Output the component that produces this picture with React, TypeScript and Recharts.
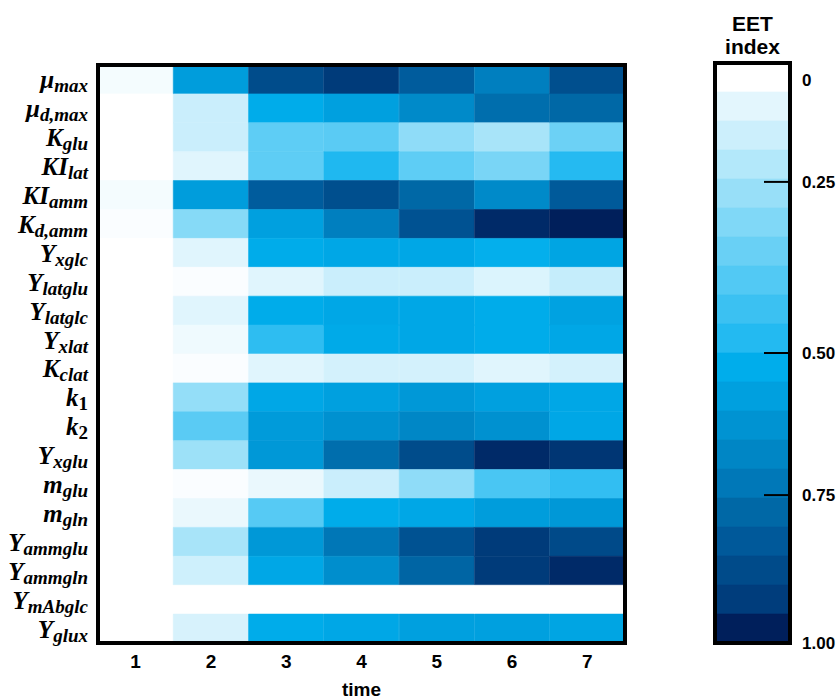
import { BarChart, Bar, Cell, XAxis, YAxis, ReferenceArea } from "recharts";

const times = ["1", "2", "3", "4", "5", "6", "7"];

const rowMain = ["μ", "μ", "K", "KI", "KI", "K", "Y", "Y", "Y", "Y", "K", "k", "k", "Y", "m", "m", "Y", "Y", "Y", "Y"];
const rowSub = ["max", "d,max", "glu", "lat", "amm", "d,amm", "xglc", "latglu", "latglc", "xlat", "clat", "1", "2", "xglu", "glu", "gln", "ammglu", "ammgln", "mAbglc", "glux"];

// EET index per parameter, one value per time point
const muMax = [0.02, 0.59, 0.89, 0.95, 0.83, 0.71, 0.88];
const muDMax = [0, 0.11, 0.53, 0.58, 0.67, 0.77, 0.79];
const kGlu = [0, 0.11, 0.34, 0.35, 0.23, 0.18, 0.31];
const kiLat = [0, 0.06, 0.34, 0.48, 0.34, 0.28, 0.47];
const kiAmm = [0.02, 0.59, 0.83, 0.88, 0.79, 0.67, 0.84];
const kDAmm = [0.01, 0.25, 0.58, 0.71, 0.87, 0.98, 1.0];
const yXglc = [0, 0.06, 0.53, 0.55, 0.55, 0.52, 0.56];
const yLatglu = [0, 0.01, 0.06, 0.11, 0.11, 0.07, 0.12];
const yLatglc = [0, 0.06, 0.53, 0.55, 0.55, 0.53, 0.57];
const yXlat = [0, 0.03, 0.45, 0.54, 0.55, 0.53, 0.55];
const kClat = [0, 0.01, 0.06, 0.09, 0.09, 0.06, 0.09];
const k1 = [0, 0.22, 0.55, 0.58, 0.61, 0.58, 0.55];
const k2 = [0, 0.35, 0.6, 0.64, 0.68, 0.64, 0.55];
const yXglu = [0, 0.2, 0.61, 0.77, 0.89, 0.98, 0.96];
const mGlu = [0, 0.01, 0.04, 0.11, 0.23, 0.39, 0.44];
const mGln = [0, 0.04, 0.36, 0.53, 0.55, 0.59, 0.61];
const yAmmglu = [0, 0.18, 0.61, 0.74, 0.87, 0.95, 0.9];
const yAmmgln = [0, 0.1, 0.55, 0.65, 0.8, 0.95, 0.98];
const yMAbglc = [0, 0, 0, 0, 0, 0, 0];
const yGlux = [0, 0.08, 0.53, 0.55, 0.58, 0.58, 0.56];

const rows = [muMax, muDMax, kGlu, kiLat, kiAmm, kDAmm, yXglc, yLatglu, yLatglc, yXlat, kClat, k1, k2, yXglu, mGlu, mGln, yAmmglu, yAmmgln, yMAbglc, yGlux];

const palette = [
  "#FFFFFF", "#E3F6FD", "#CCEFFC", "#B3E8FA", "#98DFF8",
  "#80D8F7", "#69D0F5", "#52C9F4", "#3BC1F2", "#23BAF1",
  "#00ADEB", "#00A0DF", "#0093D2", "#0086C5", "#0078B8",
  "#0068A6", "#00599A", "#004B8A", "#003D7C", "#001F5B",
];

const cbTicks = [0.6, 4.1, 10, 14.9, 20];
const cbLabels = ["0", "0.25", "0.50", "0.75", "1.00"];

const hex = (s: string) => [1, 3, 5].map((i) => parseInt(s.slice(i, i + 2), 16));

function colorFor(v: number) {
  const t = Math.max(0, Math.min(1, v)) * (palette.length - 1);
  const i = Math.floor(t);
  if (i >= palette.length - 1) return palette[palette.length - 1];
  const f = t - i;
  const a = hex(palette[i]);
  const b = hex(palette[i + 1]);
  const c = a.map((x, k) => Math.round(x + (b[k] - x) * f));
  return `rgb(${c[0]},${c[1]},${c[2]})`;
}

const heatData = times.map((t) => {
  const o: Record<string, any> = { time: t };
  rows.forEach((_, r) => (o["r" + r] = 1));
  return o;
});

const cbData = [
  palette.reduce((o: Record<string, any>, _, i) => {
    o["b" + i] = 1;
    return o;
  }, { k: "cb" }),
];

const rowTicks = rows.map((_, i) => i + 0.5);

function RowTick(props: any) {
  const { x, y, payload } = props;
  const i = Math.floor(payload.value);
  const sub = rowSub[i];
  const upright = /^\d+$/.test(sub);
  return (
    <text
      x={x}
      y={y + 9}
      textAnchor="end"
      fontFamily="Liberation Serif"
      fontWeight="bold"
      fontStyle="italic"
      fill="#000"
    >
      <tspan fontSize={25}>{rowMain[i]}</tspan>
      <tspan fontSize={19} dy={4} fontStyle={upright ? "normal" : "italic"}>{sub}</tspan>
    </text>
  );
}

function CbTick(props: any) {
  const { x, y, payload } = props;
  const idx = cbTicks.indexOf(payload.value);
  const showLine = idx > 0 && idx < cbTicks.length - 1;
  return (
    <g>
      {showLine && <line x1={x - 38} x2={x - 12} y1={y} y2={y} stroke="#000" strokeWidth={2} />}
      <text x={x} y={y + 6} textAnchor="start" fontFamily="Liberation Sans" fontWeight="bold" fontSize={17} fill="#000">
        {cbLabels[idx]}
      </text>
    </g>
  );
}

export default function App() {
  return (
    <div style={{ position: "absolute", left: 0, top: 0, width: 839, height: 700, background: "#fff" }}>
      <div style={{ position: "absolute", left: 0, top: 0 }}>
        <BarChart
          width={660}
          height={700}
          data={heatData}
          margin={{ top: 65, right: 35, left: 0, bottom: 0 }}
          barCategoryGap={0}
          barGap={0}
        >
          <XAxis
            dataKey="time"
            height={57}
            tickLine={false}
            tickSize={0}
            tickMargin={12}
            axisLine={false}
            tick={{ fill: "#000", fontFamily: "Liberation Sans", fontWeight: "bold", fontSize: 19 }}
            label={{ value: "time", position: "insideBottom", offset: 4, fill: "#000", fontFamily: "Liberation Sans", fontWeight: "bold", fontSize: 19 }}
          />
          <YAxis
            type="number"
            domain={[0, 20]}
            reversed
            ticks={rowTicks}
            interval={0}
            width={98}
            tickLine={false}
            tickSize={0}
            tickMargin={10}
            axisLine={false}
            tick={<RowTick />}
          />
          {rows.map((vals, r) => (
            <Bar key={r} dataKey={"r" + r} stackId="h" isAnimationActive={false}>
              {vals.map((v, c) => (
                <Cell key={c} fill={colorFor(v)} stroke={colorFor(v)} strokeWidth={0.6} />
              ))}
            </Bar>
          ))}
          <ReferenceArea y1={0} y2={20} fill="none" fillOpacity={0} stroke="#000" strokeWidth={4} ifOverflow="visible" zIndex={1000} />
        </BarChart>
      </div>
      <div
        style={{
          position: "absolute",
          left: 692,
          top: 12,
          width: 121,
          textAlign: "center",
          fontFamily: "Liberation Sans",
          fontWeight: "bold",
          fontSize: 21,
          lineHeight: "23px",
          color: "#000",
        }}
      >
        EET
        <br />
        index
      </div>
      <div style={{ position: "absolute", left: 700, top: 0 }}>
        <BarChart
          width={139}
          height={700}
          data={cbData}
          margin={{ top: 63, right: 0, left: 15, bottom: 57 }}
          barCategoryGap={0}
          barGap={0}
        >
          <XAxis dataKey="k" height={0} hide />
          <YAxis
            orientation="right"
            type="number"
            domain={[0, 20]}
            reversed
            ticks={cbTicks}
            interval={0}
            width={49}
            tickLine={false}
            tickSize={0}
            tickMargin={12}
            axisLine={false}
            tick={<CbTick />}
          />
          {palette.map((col, i) => (
            <Bar key={i} dataKey={"b" + i} stackId="c" fill={col} stroke={col} strokeWidth={0.6} isAnimationActive={false} />
          ))}
          <ReferenceArea y1={0} y2={20} fill="none" fillOpacity={0} stroke="#000" strokeWidth={4} ifOverflow="visible" zIndex={1000} />
        </BarChart>
      </div>
    </div>
  );
}
